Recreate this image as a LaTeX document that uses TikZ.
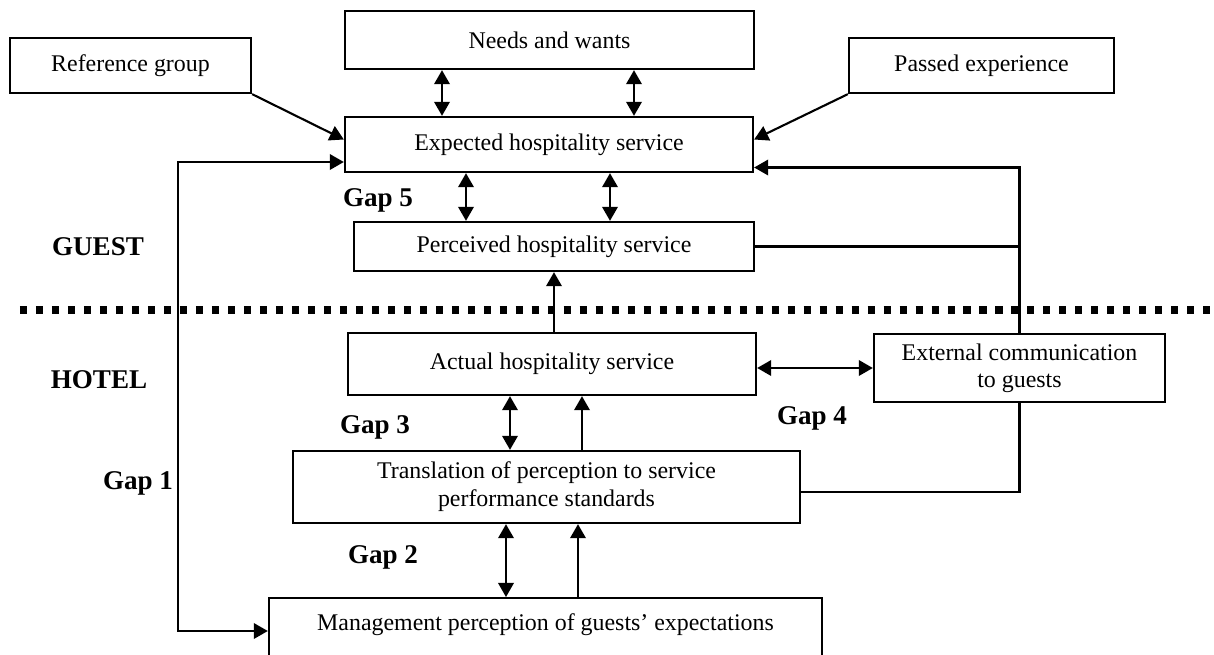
\documentclass[tikz,border=0pt]{standalone}
\usepackage{fontspec}
\setmainfont{Liberation Serif}
\usetikzlibrary{arrows.meta,positioning,calc}

\begin{document}
\begin{tikzpicture}[
    % Box, label and connector styles
    stage/.style={rectangle, draw=black, line width=0.65pt, inner sep=0pt, align=center, font=\fontsize{6.8pt}{7.6pt}\selectfont},
    side/.style={font=\fontsize{7.7pt}{9pt}\selectfont\bfseries},
    gaplabel/.style={font=\fontsize{7.7pt}{9pt}\selectfont\bfseries},
    link/.style={-{Triangle[length=4pt, width=4.4pt]}, line width=0.6pt},
    twoway/.style={{Triangle[length=4pt, width=4.4pt]}-{Triangle[length=4pt, width=4.4pt]}, line width=0.6pt},
    line/.style={line width=0.65pt},
    divider/.style={line width=2pt, dash pattern=on 2pt off 2.55pt}
]

% Page frame
\useasboundingbox (0,0) rectangle (12.14,-6.55);
\clip (0,0) rectangle (12.14,-6.55);

% Guest side (top)
\node[stage, minimum width=2.41cm, minimum height=0.55cm] (refgroup) at (1.305,-0.655) {Reference group};
\node[stage, minimum width=4.09cm, minimum height=0.58cm] (needs) at (5.495,-0.40) {Needs and wants};
\node[stage, minimum width=2.65cm, minimum height=0.55cm] (passed) at (9.815,-0.655) {Passed experience};
\node[stage, minimum width=4.08cm, minimum height=0.55cm] (expected) at (5.49,-1.445) {Expected hospitality service};
\node[stage, minimum width=4.00cm, minimum height=0.49cm] (perceived) at (5.54,-2.465) {Perceived hospitality service};

% Dividing line between guest and hotel
\draw[divider] (0.2,-3.1) -- (12.3,-3.1);

% Hotel side (bottom)
\node[stage, minimum width=4.08cm, minimum height=0.62cm] (actual) at (5.52,-3.64) {Actual hospitality service};
\node[stage, minimum width=2.91cm, minimum height=0.68cm] (external) at (10.195,-3.68) {External communication\\to guests};
\node[stage, minimum width=5.07cm, minimum height=0.72cm, font=\fontsize{6.8pt}{8pt}\selectfont] (translation) at (5.465,-4.87) {Translation of perception to service\\performance standards};
\node[stage, minimum width=5.53cm, anchor=north, text height=0.32cm, text depth=0.6cm] (mgmt) at (5.455,-5.97) {Management perception of guests' expectations};

% Side and gap labels
\node[side] (guest) at (0.98,-2.47) {GUEST};
\node[side] (hotel) at (0.99,-3.80) {HOTEL};
\node[gaplabel] (gapfive) at (3.78,-2.00) {Gap 5};
\node[gaplabel] (gapthree) at (3.75,-4.27) {Gap 3};
\node[gaplabel] (gapfour) at (8.12,-4.18) {Gap 4};
\node[gaplabel] (gapone) at (1.38,-4.83) {Gap 1};
\node[gaplabel] (gaptwo) at (3.83,-5.57) {Gap 2};

% Influences on expectations
\draw[link] (refgroup.south east) -- ([yshift=0.05cm]expected.west);
\draw[link] (passed.south west) -- ([yshift=0.05cm]expected.east);
\draw[twoway] ([xshift=-1.075cm]needs.south) -- ([xshift=-1.075cm]needs.south |- expected.north);
\draw[twoway] ([xshift=0.845cm]needs.south) -- ([xshift=0.845cm]needs.south |- expected.north);

% Gap 5
\draw[twoway] ([xshift=-0.83cm]expected.south) -- ([xshift=-0.83cm]expected.south |- perceived.north);
\draw[twoway] ([xshift=0.61cm]expected.south) -- ([xshift=0.61cm]expected.south |- perceived.north);

% Delivery to the guest
\draw[link] (actual.north -| perceived.south) -- (perceived.south);
\draw[twoway] (actual.east |- external.west) -- (external.west);

% Gap 3 and Gap 2
\draw[twoway] ([xshift=-0.365cm]translation.north) -- ([xshift=-0.365cm]translation.north |- actual.south);
\draw[link] ([xshift=0.355cm]translation.north) -- ([xshift=0.355cm]translation.north |- actual.south);
\draw[twoway] ([xshift=-0.405cm]translation.south) -- ([xshift=-0.405cm]translation.south |- mgmt.north);
\draw[link] ([xshift=0.315cm]translation.south |- mgmt.north) -- ([xshift=0.315cm]translation.south);

% Gap 1 loop
\coordinate (gapcorner) at (1.78,-4.0);
\draw[twoway] ([yshift=-0.175cm]expected.west) -| (gapcorner) |- ([yshift=-0.34cm]mgmt.north west);

% Feedback through external communication
\draw[link] (external.north) |- ([yshift=-0.23cm]expected.east);
\draw[line] (perceived.east) -- (perceived.east -| external.north);
\draw[line] ([yshift=-0.05cm]translation.east) -| (external.south);

\end{tikzpicture}
\end{document}
